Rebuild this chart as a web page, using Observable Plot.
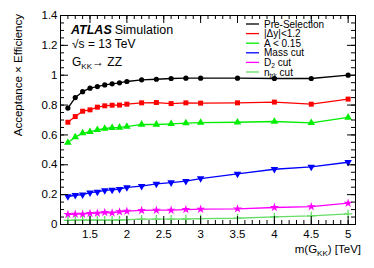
<!DOCTYPE html>
<html><head><meta charset="utf-8">
<script src="https://cdn.jsdelivr.net/npm/d3@7"></script>
<script src="https://cdn.jsdelivr.net/npm/@observablehq/plot@0.6"></script>
<style>
body{margin:0;background:#fff;}
svg{font-family:"Liberation Sans",Arial,sans-serif;}
</style></head><body><div id="chart"></div>
<script>
const masses = [1.2,1.3,1.4,1.5,1.6,1.7,1.8,1.9,2.0,2.2,2.4,2.6,2.8,3.0,3.5,4.0,4.5,5.0];
const preSelection = [0.78,0.85,0.89,0.913,0.924,0.935,0.942,0.949,0.958,0.969,0.973,0.978,0.98,0.98,0.98,0.978,0.978,1.0];
const deltaY = [0.685,0.723,0.759,0.768,0.786,0.795,0.799,0.80,0.806,0.815,0.817,0.81,0.815,0.813,0.815,0.82,0.806,0.84];
const aCut = [0.549,0.585,0.612,0.621,0.634,0.643,0.648,0.65,0.656,0.67,0.67,0.674,0.679,0.682,0.685,0.69,0.681,0.717];
const massCut = [0.1875,0.196,0.2,0.214,0.219,0.228,0.232,0.237,0.248,0.257,0.272,0.281,0.29,0.308,0.339,0.37,0.386,0.417];
const d2Cut = [0.067,0.069,0.069,0.074,0.076,0.08,0.078,0.085,0.089,0.094,0.096,0.096,0.1,0.103,0.105,0.114,0.12,0.143];
const ntrkCut = [0.027,0.029,0.029,0.029,0.029,0.029,0.029,0.03,0.033,0.036,0.036,0.036,0.037,0.039,0.042,0.051,0.058,0.071];

const xMajor = [1.5,2,2.5,3,3.5,4,4.5,5];
const xMinor = d3.range(11,51).map(d=>d/10);
const yMajor = [0,0.2,0.4,0.6,0.8,1,1.2,1.4];
const yMinor = d3.range(0,29).map(d=>+(d*0.05).toFixed(2));

const series = [
  {name:"Pre-Selection", values:preSelection, color:"#000000", symbol:"circle", r:2.6, rotate:0},
  {name:"|Δy|<1.2", values:deltaY, color:"#ff0000", symbol:"square", r:2.8, rotate:0},
  {name:"A < 0.15", values:aCut, color:"#00ee00", symbol:"triangle", r:2.8, rotate:0},
  {name:"Mass cut", values:massCut, color:"#0000ff", symbol:"triangle", r:2.8, rotate:180},
  {name:"D2 cut", values:d2Cut, color:"#ff00ff", symbol:"star", r:2.8, rotate:0},
  {name:"ntrk cut", values:ntrkCut, color:"#66dd66", symbol:"plus", r:2.8, rotate:0}
];
const rows = series.flatMap(s => masses.map((m,i)=>({series:s.name, x:m, y:s.values[i]})));

const W = 374, H = 268, ML = 60, MR = 19, MT = 15, MB = 44;
const PW = W - ML - MR, PH = H - MT - MB;

const marks = [];
for (const s of series) {
  const data = rows.filter(r=>r.series===s.name);
  marks.push(Plot.line(data,{x:"x",y:"y",stroke:s.color,strokeWidth:1.3}));
  const dotOpts = {x:"x",y:"y",symbol:()=>s.symbol,r:s.r,rotate:s.rotate};
  if (s.symbol==="plus") { dotOpts.stroke = s.color; dotOpts.strokeWidth=1.3; }
  else { dotOpts.fill = s.color; dotOpts.stroke = "none"; }
  marks.push(Plot.dot(data,dotOpts));
}

const tickStyle = {stroke:"#000", strokeWidth:1};
const chart = Plot.plot({
  width:W, height:H,
  marginLeft:ML, marginRight:MR, marginTop:MT, marginBottom:MB,
  style:{fontFamily:"Liberation Sans, Arial, sans-serif", fontSize:"11px", color:"#000", background:"#fff"},
  x:{domain:[1.1,5.1], axis:null},
  y:{domain:[0,1.4], axis:null},
  symbol:{type:"identity"},
  marks:[
    ...marks,
    Plot.axisX(xMajor,{anchor:"bottom",tickSize:0,tickPadding:5,fontSize:11.5,label:null,tickFormat:d=>String(d)}),
    Plot.axisY(yMajor,{anchor:"left",tickSize:0,tickPadding:3,fontSize:11.5,label:null,tickFormat:d=>String(d)}),
    Plot.tickX(xMajor,{x:d=>d, insetTop:PH-8, ...tickStyle}),
    Plot.tickX(xMinor,{x:d=>d, insetTop:PH-4, ...tickStyle}),
    Plot.tickX(xMajor,{x:d=>d, insetBottom:PH-8, ...tickStyle}),
    Plot.tickX(xMinor,{x:d=>d, insetBottom:PH-4, ...tickStyle}),
    Plot.tickY(yMajor,{y:d=>d, insetRight:PW-8, ...tickStyle}),
    Plot.tickY(yMinor,{y:d=>d, insetRight:PW-4, ...tickStyle}),
    Plot.tickY(yMajor,{y:d=>d, insetLeft:PW-8, ...tickStyle}),
    Plot.tickY(yMinor,{y:d=>d, insetLeft:PW-4, ...tickStyle}),
    Plot.frame({stroke:"#000",strokeWidth:1})
  ]
});
document.getElementById("chart").appendChild(chart);

const svg = d3.select(chart);
svg.selectAll("text").attr("fill","#000");
const ann = svg.append("g").attr("font-family","Liberation Sans, Arial, sans-serif").attr("fill","#000").attr("text-anchor","start");
const t1 = ann.append("text").attr("x",71).attr("y",34).attr("font-size",12.5);
t1.append("tspan").attr("font-weight","bold").attr("font-style","italic").text("ATLAS");
t1.append("tspan").attr("dx",3).text("Simulation");
const t2 = ann.append("text").attr("x",72).attr("y",48).attr("font-size",12);
t2.append("tspan").text("√s = 13 TeV");
const t3 = ann.append("text").attr("x",72).attr("y",66).attr("font-size",12);
t3.append("tspan").text("G");
t3.append("tspan").attr("font-size",8).attr("dy",3).text("KK");
t3.append("tspan").attr("dy",-3).text("→ ZZ");
ann.append("text").attr("transform","translate(22,14) rotate(-90)").attr("text-anchor","end").attr("font-size",11.5).text("Acceptance × Efficiency");
const xt = ann.append("text").attr("x",361).attr("y",253).attr("text-anchor","end").attr("font-size",11.5);
xt.append("tspan").text("m(G");
xt.append("tspan").attr("font-size",8).attr("dy",3).text("KK");
xt.append("tspan").attr("dy",-3).text(") [TeV]");
const legendLabels = [
  [["Pre-Selection",null]],
  [["|Δy|<1.2",null]],
  [["A < 0.15",null]],
  [["Mass cut",null]],
  [["D",null],["2","sub"],[" cut","after"]],
  [["n",null],["trk","sub"],[" cut","after"]]
];
series.forEach((s,i)=>{
  const y = 24 + i*9.6;
  ann.append("line").attr("x1",246).attr("x2",259).attr("y1",y).attr("y2",y).attr("stroke",s.color).attr("stroke-width",1.3);
  const t = ann.append("text").attr("x",264).attr("y",y+3.5).attr("font-size",10);
  legendLabels[i].forEach(([txt,kind])=>{
    const sp = t.append("tspan").text(txt);
    if (kind==="sub") sp.attr("font-size",6.5).attr("dy",2);
    if (kind==="after") sp.attr("dy",-2);
  });
});
</script></body></html>
